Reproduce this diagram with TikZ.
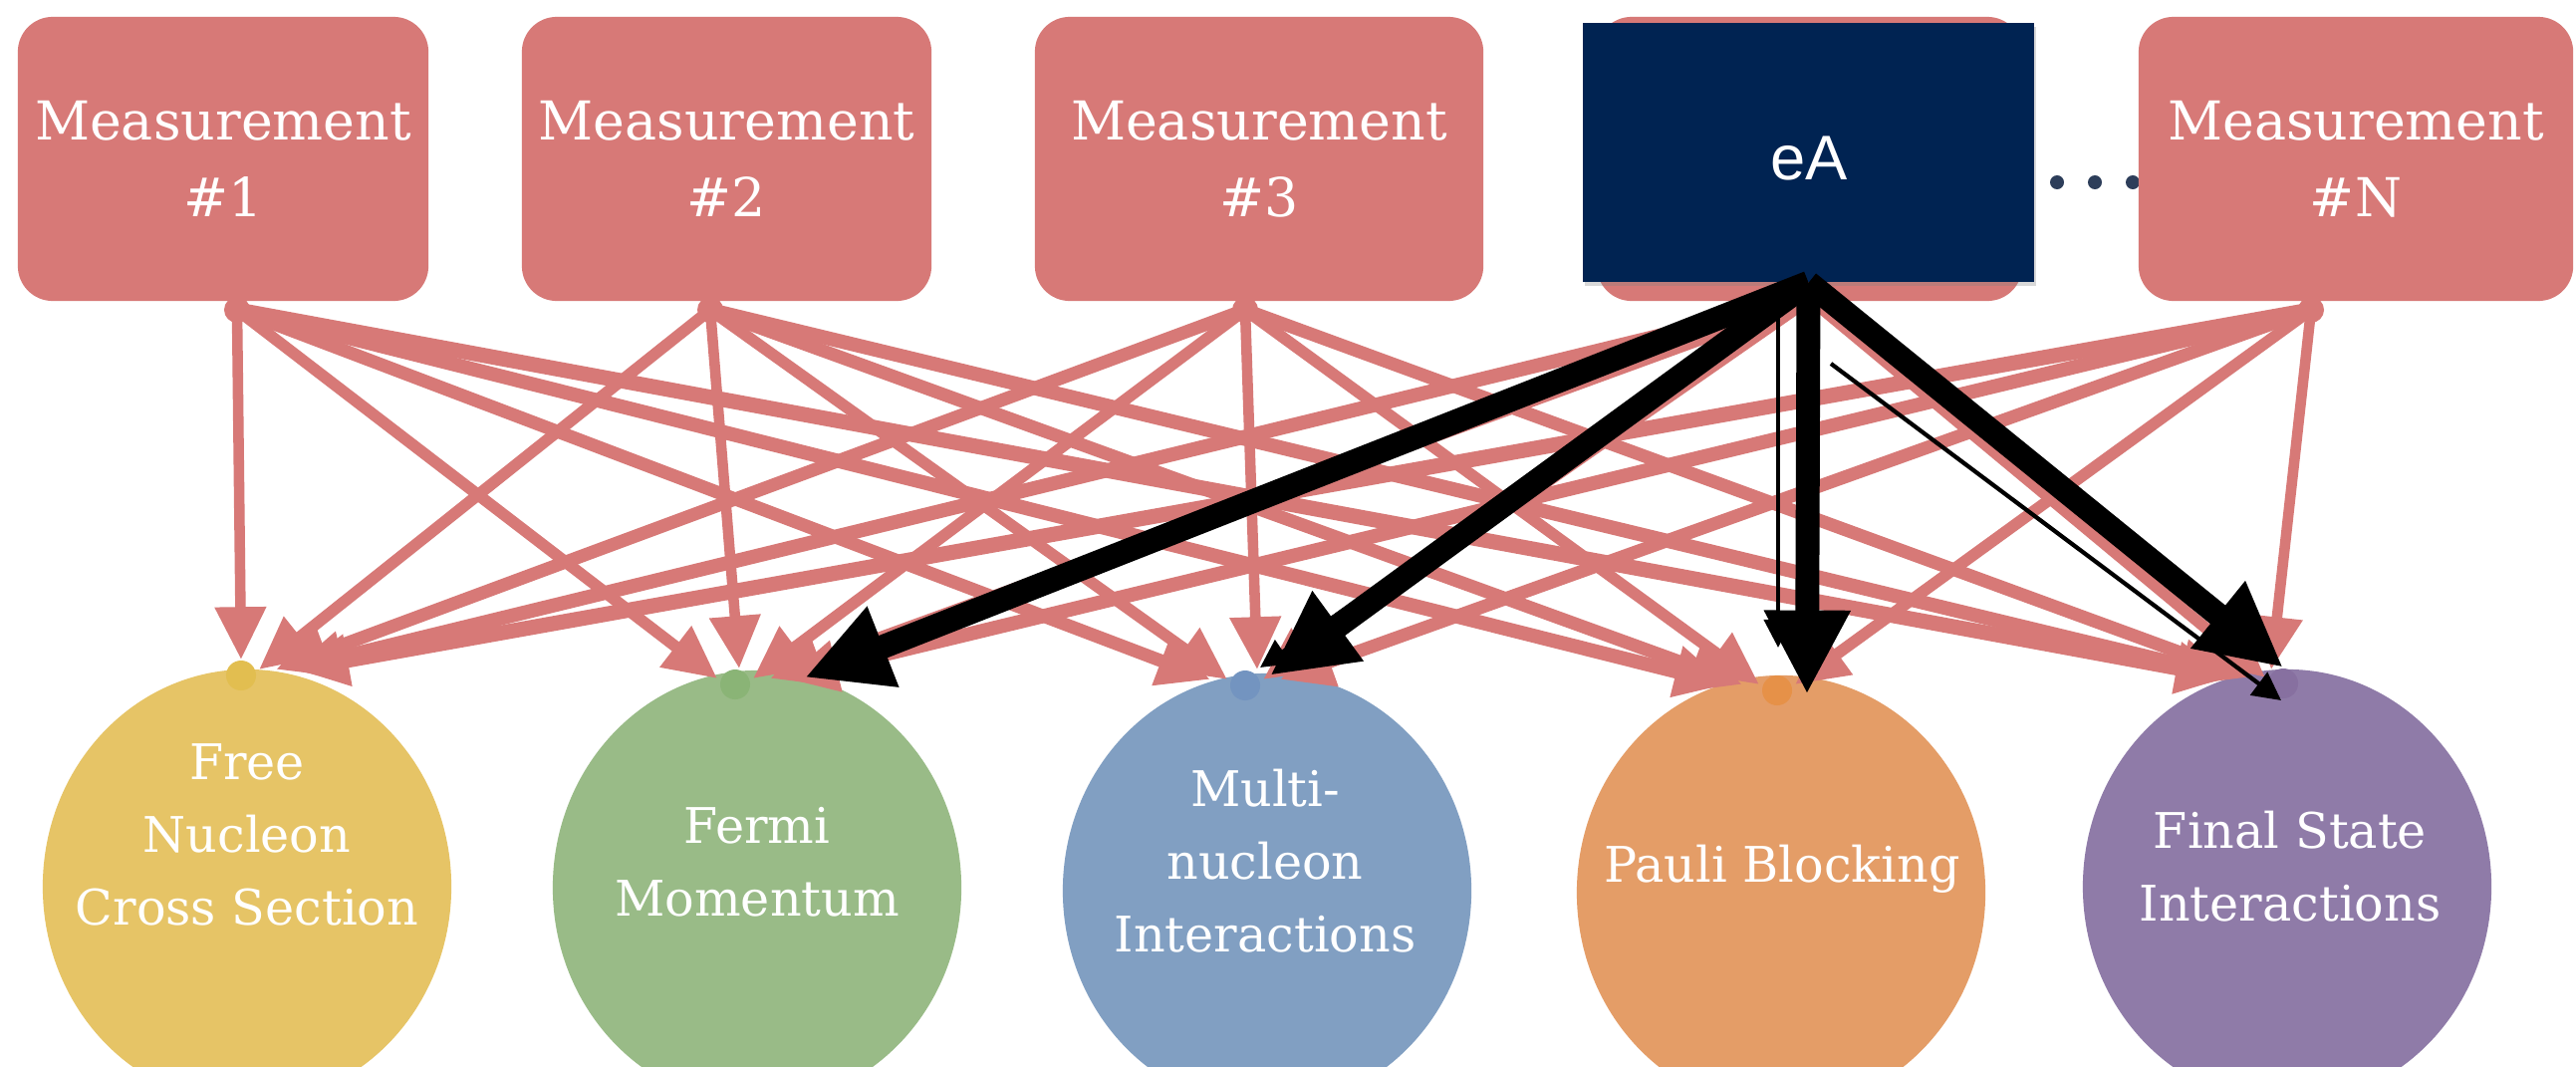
\documentclass[tikz,border=0pt]{standalone}
\usepackage{fontspec}
\newfontfamily\eafont{Liberation Sans}
\newfontfamily\dvs{DejaVu Serif}
\usetikzlibrary{arrows.meta,calc,shapes.geometric,shadows}
\definecolor{mred}{RGB}{215,121,119}
\definecolor{cyel}{RGB}{230,196,102}
\definecolor{cyeld}{RGB}{226,190,80}
\definecolor{cgrn}{RGB}{153,187,135}
\definecolor{cgrnd}{RGB}{138,180,118}
\definecolor{cblu}{RGB}{129,159,194}
\definecolor{cblud}{RGB}{115,148,192}
\definecolor{cora}{RGB}{228,157,103}
\definecolor{corad}{RGB}{230,145,72}
\definecolor{cpur}{RGB}{143,123,168}
\definecolor{cpurd}{RGB}{135,112,160}
\definecolor{navy}{RGB}{0,35,82}
\definecolor{dotc}{RGB}{45,62,90}
\tikzset{
  mbox/.style={rectangle, rounded corners=0.35cm, fill=mred, text=white, align=center,
    inner sep=0pt, minimum height=2.85cm, font=\dvs\fontsize{15.3}{21.9}\selectfont},
  circ/.style={ellipse, minimum width=4.1cm, minimum height=4.36cm, inner sep=0pt},
  ctext/.style={text=white, align=center, inner sep=0pt, font=\dvs\fontsize{14}{20.8}\selectfont},
  sdot/.style={circle, fill=mred, minimum size=0.26cm, inner sep=0pt},
  tdot/.style={circle, minimum size=0.3cm, inner sep=0pt},
  rarr/.style={color=mred, -{Triangle[length=15pt,width=14pt]}},
  rw0/.style={rarr, line width=3.0pt},
  rw1/.style={rarr, line width=3.3pt},
  rw2/.style={rarr, line width=3.7pt},
  rw3/.style={rarr, line width=4.0pt},
  rw4/.style={rarr, line width=4.3pt},
  barr/.style={black, line width=6.8pt, -{Triangle[length=24pt,width=23pt]}},
  tarr/.style={black, line width=1.2pt, -{Triangle[length=8pt,width=8pt]}}
}
\begin{document}
\begin{tikzpicture}[x=0.01cm,y=-0.01cm]
\clip (0,0) rectangle (2586,1070);
\fill[white] (0,0) rectangle (2586,1070);

% bottom ellipses
\node[circ, fill=cyel] (c1) at (248,890) {};
\node[circ, fill=cgrn] (c2) at (760,891) {};
\node[circ, fill=cblu] (c3) at (1272,894) {};
\node[circ, fill=cora] (c4) at (1788,896) {};
\node[circ, fill=cpur] (c5) at (2296,890) {};

\node[ctext] (l1) at (248,838) {Free\\Nucleon\\Cross Section};
\node[ctext] (l2) at (760,865) {Fermi\\Momentum};
\node[ctext] (l3) at (1270,864) {Multi-\\nucleon\\Interactions};
\node[ctext] (l4) at (1789,872) {Pauli Blocking};
\node[ctext] (l5) at (2299,870) {Final State\\Interactions};

\node[tdot, fill=cyeld] (t1) at (242,678) {};
\node[tdot, fill=cgrnd] (t2) at (738,687) {};
\node[tdot, fill=cblud] (t3) at (1250,688) {};
\node[tdot, fill=corad] (t4) at (1784,693) {};
\node[tdot, fill=cpurd] (t5) at (2292,686) {};

% ellipsis dots
\fill[dotc] (2065,183) circle (7);
\fill[dotc] (2103,183) circle (7);
\fill[dotc] (2141,183) circle (7);

% top boxes
\node[mbox, minimum width=4.12cm] (b1) at (224,159.5) {Measurement\\\#1};
\node[mbox, minimum width=4.11cm] (b2) at (729.5,159.5) {Measurement\\\#2};
\node[mbox, minimum width=4.50cm] (b3) at (1264,159.5) {Measurement\\\#3};
\node[mbox, minimum width=4.27cm] (b4) at (1816.5,159.5) {};
\node[mbox, minimum width=4.36cm] (b5) at (2365,159.5) {Measurement\\\#N};

\node[sdot] (d1) at (238,311) {};
\node[sdot] (d2) at (713,311) {};
\node[sdot] (d3) at (1250,311) {};
\node[sdot] (d4) at (1817,300) {};
\node[sdot] (d5) at (2320,311) {};

% red arrows
\draw[rw0] (d1.center) -- ($(t1)+(0,-16)$);
\draw[rw1] (d1.center) -- ($(t2)+(-18,-6)$);
\draw[rw2] (d1.center) -- ($(t3)+(-35,-6)$);
\draw[rw3] (d1.center) -- ($(t4)+(-50,-6)$);
\draw[rw4] (d1.center) -- ($(t5)+(-55,-6)$);

\draw[rw1] (d2.center) -- ($(t1)+(18,-6)$);
\draw[rw0] (d2.center) -- ($(t2)+(4,-16)$);
\draw[rw1] (d2.center) -- ($(t3)+(-18,-6)$);
\draw[rw2] (d2.center) -- ($(t4)+(-35,-6)$);
\draw[rw3] (d2.center) -- ($(t5)+(-50,-6)$);

\draw[rw2] (d3.center) -- ($(t1)+(35,-6)$);
\draw[rw1] (d3.center) -- ($(t2)+(18,-6)$);
\draw[rw0] (d3.center) -- ($(t3)+(12,-16)$);
\draw[rw1] (d3.center) -- ($(t4)+(-18,-6)$);
\draw[rw2] (d3.center) -- ($(t5)+(-35,-6)$);

\draw[rw3] (d4.center) -- ($(t1)+(50,-6)$);
\draw[rw2] (d4.center) -- ($(t2)+(35,-6)$);
\draw[rw1] (d4.center) -- ($(t3)+(18,-6)$);
\draw[rw0] (d4.center) -- ($(t4)+(25,-16)$);
\draw[rw1] (d4.center) -- ($(t5)+(-18,-6)$);

\draw[rw4] (d5.center) -- ($(t1)+(55,-6)$);
\draw[rw3] (d5.center) -- ($(t2)+(50,-6)$);
\draw[rw2] (d5.center) -- ($(t3)+(35,-6)$);
\draw[rw1] (d5.center) -- ($(t4)+(18,-6)$);
\draw[rw0] (d5.center) -- ($(t5)+(-12,-14)$);

% eA box
\node[fill=navy, minimum width=4.53cm, minimum height=2.60cm, inner sep=0pt, text=white,
  font=\eafont\fontsize{18}{20}\selectfont,
  drop shadow={opacity=0.3, shadow xshift=0.02cm, shadow yshift=-0.04cm}] (eA) at (1815.5,153) {};
\node[text=white, inner sep=0pt, font=\eafont\fontsize{18}{20}\selectfont] (eAt) at (1816,159) {eA};

\coordinate (tb) at (1785,312);
\coordinate (tp) at (1838,365);

% black arrows
\draw[barr] (eA.south) -- ($(t2)+(70,-7)$);
\draw[barr] (eA.south) -- ($(t3)+(25,-10)$);
\draw[tarr] (tb) -- ($(t3)+(15,-18)$);
\draw[barr] (eA.south) -- ($(t4)+(30,4)$);
\draw[tarr] (tb) -- ($(t4)+(1,-43)$);
\draw[barr] (eA.south) -- ($(t5)+(0,-16)$);
\draw[tarr] (tp) -- ($(t5)+(-2,17)$);
\end{tikzpicture}
\end{document}
